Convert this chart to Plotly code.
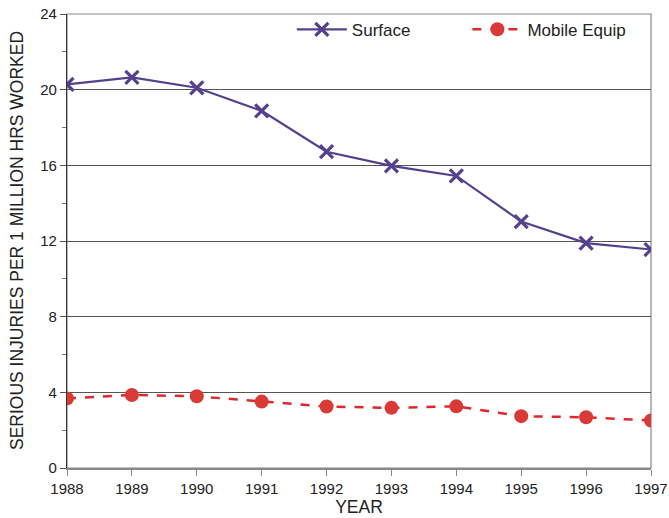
import plotly.graph_objects as go

years = [1988, 1989, 1990, 1991, 1992, 1993, 1994, 1995, 1996, 1997]
surface = [20.28, 20.65, 20.1, 18.88, 16.72, 15.97, 15.44, 13.03, 11.89, 11.55]
mobile_equip = [3.68, 3.86, 3.79, 3.51, 3.25, 3.18, 3.26, 2.74, 2.68, 2.51]
y_ticks = [0, 4, 8, 12, 16, 20, 24]

PURPLE = "#54408C"
RED = "#E0282C"

fig = go.Figure()
fig.add_trace(go.Scatter(
    x=years, y=surface, name="Surface           ", mode="lines+markers",
    line=dict(color=PURPLE, width=2.2),
    marker=dict(symbol="x-thin", size=13, color=PURPLE, line=dict(color=PURPLE, width=3.2)),
))
fig.add_trace(go.Scatter(
    x=years, y=mobile_equip, name="Mobile Equip", mode="lines+markers",
    line=dict(color=RED, width=2.5, dash="dash"),
    marker=dict(symbol="circle", size=14, color="#D93A35"),
))

fig.update_layout(
    width=669, height=518,
    margin=dict(l=67, r=18, t=12, b=50),
    plot_bgcolor="white", paper_bgcolor="white",
    font=dict(family="Liberation Sans, Arial, sans-serif", size=15, color="#222"),
    showlegend=True,
    legend=dict(orientation="h", x=0.385, y=1.005, xanchor="left", yanchor="top",
                bgcolor="rgba(0,0,0,0)", font=dict(size=17, color="#222"),
                itemwidth=50),
    xaxis=dict(
        range=[1988, 1997], tickmode="array", tickvals=years,
        ticks="outside", ticklen=6, tickcolor="#888", showgrid=False,
        showline=True, linecolor="#888", linewidth=1.5, mirror=False,
        title=dict(text="YEAR", font=dict(size=17.5), standoff=2),
        tickfont=dict(size=15), automargin=False, ticklabeloverflow="allow",
    ),
    yaxis=dict(
        range=[0, 24], tickmode="array", tickvals=y_ticks,
        ticks="outside", ticklen=6, tickcolor="#555",
        showgrid=True, gridcolor="#555", gridwidth=1,
        showline=True, linecolor="#333", linewidth=1.2,
        zeroline=False, automargin=False, ticklabeloverflow="allow",
        minor=dict(dtick=2, ticks="outside", ticklen=4, tickcolor="#777", showgrid=False),
        tickfont=dict(size=15),
    ),
    annotations=[dict(
        text="SERIOUS INJURIES PER 1 MILLION HRS WORKED", textangle=-90,
        xref="paper", yref="paper", x=-0.0856, y=0.5, xanchor="center", yanchor="middle",
        showarrow=False, font=dict(size=17.5, color="#222"),
    )],
)
fig.add_shape(type="rect", xref="paper", yref="paper", x0=0, y0=0, x1=1, y1=1,
              line=dict(color="#888", width=1.2), layer="below")

fig.write_html("out.html", config={"displayModeBar": False},
               post_script="document.body.style.margin='0';document.body.style.overflow='hidden';")
